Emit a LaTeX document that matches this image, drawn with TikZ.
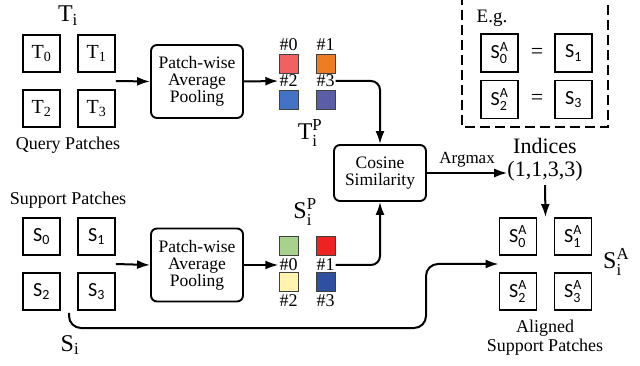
\documentclass[tikz,border=0pt]{standalone}
\usepackage{fontspec}
\setmainfont{Liberation Serif}
\setsansfont{Carlito}
\usepackage{xcolor}
\definecolor{qcol0}{HTML}{F26161}
\definecolor{qcol1}{HTML}{EE7D22}
\definecolor{qcol2}{HTML}{4472C4}
\definecolor{qcol3}{HTML}{5B5EA6}
\definecolor{scol0}{HTML}{A9D18E}
\definecolor{scol1}{HTML}{EE2222}
\definecolor{scol2}{HTML}{FFF5B1}
\definecolor{scol3}{HTML}{2F4FA0}
\usetikzlibrary{arrows.meta,positioning,calc}
\tikzset{
  patch/.style = {rectangle, draw, line width=1.9pt, minimum size=37pt,
                  inner sep=0pt, font=\fontsize{20}{20}\selectfont},
  pool/.style  = {rectangle, rounded corners=6pt, draw, line width=1.9pt,
                  minimum width=92pt, minimum height=73pt, align=center,
                  font=\fontsize{17.5}{17}\selectfont},
  cell/.style  = {rectangle, draw=black!75, line width=0.7pt,
                  minimum size=19pt, inner sep=0pt},
  tag/.style   = {font=\fontsize{18}{18}\selectfont, inner sep=1pt},
  lbl/.style   = {font=\fontsize{18}{19}\selectfont, inner sep=0pt, align=center},
  big/.style   = {font=\fontsize{24}{24}\selectfont, inner sep=0pt},
  arr/.style   = {-{Latex[length=13pt,width=9pt]}, line width=2pt},
  egbox/.style = {draw, line width=2pt, dash pattern=on 10pt off 5pt}
}

\begin{document}
\begin{tikzpicture}[x=1pt, y=-1pt]
  \useasboundingbox (0,0) rectangle (640,366);

  % query and support patches
  \foreach \n/\x/\y in {0/41.5/53.5, 1/96.5/53.5, 2/41.5/108.5, 3/96.5/108.5}
    \node[patch] (T\n) at (\x,\y) {$\mathrm{T}_{\mathrm{\n}}$};
  \foreach \n/\x/\y in {0/41.5/236.5, 1/96.5/236.5, 2/41.5/291.5, 3/96.5/291.5}
    \node[patch] (S\n) at (\x,\y) {$\mathsf{S}_{\mathsf{\n}}$};
  \node[big] (ti) at (68,16) {$\mathrm{T}_{\mathrm{i}}$};
  \node[lbl] (qlbl) at (68,145) {Query Patches};
  \node[lbl] (slbl) at (68,200) {Support Patches};
  \node[big] (si) at (70,345) {$\mathrm{S}_{\mathrm{i}}$};

  % pooling
  \node[pool] (pool1) at (197,81.5) {Patch-wise\\Average\\Pooling};
  \node[pool] (pool2) at (197,265) {Patch-wise\\Average\\Pooling};

  % pooled cells
  \foreach \n/\x/\y in {0/288.5/63.5, 1/325.5/63.5, 2/288.5/99.5, 3/325.5/99.5}
    \node[cell, fill=qcol\n] (qc\n) at (\x,\y) {};
  \foreach \n/\x/\y in {0/288.5/246, 1/325.5/246, 2/288.5/282, 3/325.5/282}
    \node[cell, fill=scol\n] (sc\n) at (\x,\y) {};
  \node[tag] (qh0) at (288.5,45) {\#0};
  \node[tag] (qh1) at (325.5,45) {\#1};
  \node[tag] (qh2) at (288.5,81) {\#2};
  \node[tag] (qh3) at (325.5,81) {\#3};
  \node[tag] (sh0) at (288.5,265) {\#0};
  \node[tag] (sh1) at (325.5,265) {\#1};
  \node[tag] (sh2) at (288.5,301) {\#2};
  \node[tag] (sh3) at (325.5,301) {\#3};
  \node[big] (tip) at (310,133) {$\mathrm{T}_{\mathrm{i}}^{\mathrm{P}}$};
  \node[big] (sip) at (305,212) {$\mathrm{S}_{\mathrm{i}}^{\mathrm{P}}$};

  % similarity and indices
  \node[pool, minimum height=56pt] (cos) at (380,173) {Cosine\\Similarity};
  \node[big, font=\fontsize{22}{22}\selectfont] (ind) at (545,146) {Indices};
  \node[big, font=\fontsize{22}{22}\selectfont] (idx) at (545,171) {(1,1,3,3)};

  % aligned patches
  \foreach \n/\x/\y in {0/518/236.5, 1/573/236.5, 2/518/291.5, 3/573/291.5}
    \node[patch] (A\n) at (\x,\y) {$\mathsf{S}_{\mathsf{\n}}^{\mathsf{A}}$};
  \node[big, anchor=west] (sia) at (603,262) {$\mathrm{S}_{\mathrm{i}}^{\mathrm{A}}$};
  \node[lbl] (albl) at (545,338) {Aligned\\Support Patches};

  % example box
  \draw[egbox] (462,-20) rectangle (608,127);
  \node[lbl, font=\fontsize{19}{19}\selectfont] (eg) at (492,18) {E.g.};
  \node[patch, minimum height=38pt] (e0) at (499.5,53) {$\mathsf{S}_{\mathsf{0}}^{\mathsf{A}}$};
  \node[patch, minimum height=38pt] (e1) at (573.5,53) {$\mathsf{S}_{\mathsf{1}}$};
  \node[patch, minimum height=38pt] (e2) at (499.5,99.5) {$\mathsf{S}_{\mathsf{2}}^{\mathsf{A}}$};
  \node[patch, minimum height=38pt] (e3) at (573.5,99.5) {$\mathsf{S}_{\mathsf{3}}$};
  \node[lbl, font=\fontsize{22}{22}\selectfont] (eq1) at (537,53) {=};
  \node[lbl, font=\fontsize{22}{22}\selectfont] (eq2) at (537,99.5) {=};

  % connectors
  \coordinate (qout) at ($(T1.east)!0.5!(T3.east)$);
  \coordinate (sout) at ($(S1.east)!0.5!(S3.east)$);
  \coordinate (sbot) at ($(S2.south east)!0.5!(S3.south west)+(0,2)$);
  \coordinate (ain) at ($(A0.south west)!0.5!(A2.north west)$);
  \coordinate (atop) at ($(A0.north east)!0.5!(A1.north west)$);
  \draw[arr] (qout) -- (pool1.west);
  \draw[arr] (sout) -- (pool2.west);
  \draw[arr] (pool1.east) -- (qh2.west);
  \draw[arr] (pool2.east) -- (sh0.west);
  \draw[arr, rounded corners=9pt] (qh3.east) -| (cos.north);
  \draw[arr, rounded corners=9pt] (sh1.east) -| (cos.south);
  \draw[arr] (cos.east) -- (cos.east -| idx.west)
    node[midway, above=1pt, font=\fontsize{17}{17}\selectfont] {Argmax};
  \draw[arr] (idx.south) ++(0,4) -- (atop);
  \draw[arr, rounded corners=12pt] (sbot) |- (426,328) |- (ain);
\end{tikzpicture}
\end{document}
